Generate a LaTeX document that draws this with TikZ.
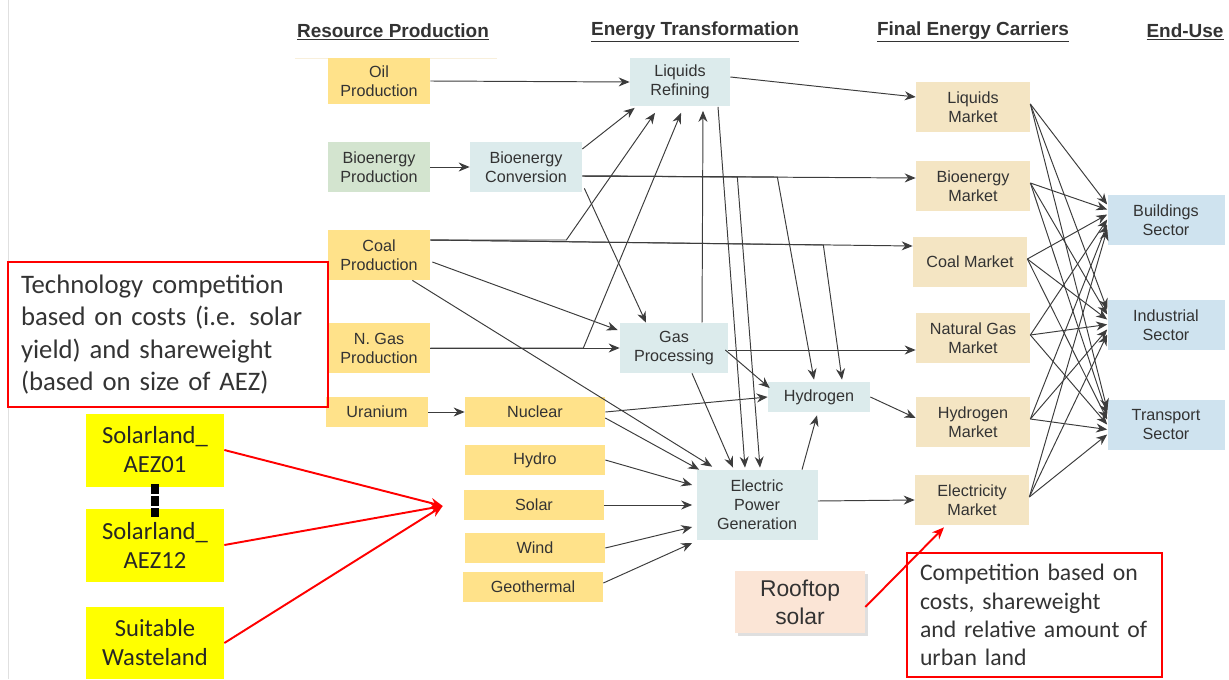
\documentclass[tikz,border=0pt]{standalone}
\usepackage{fontspec}
\setmainfont{Liberation Sans}
\newfontfamily\notefont{Carlito}
\usetikzlibrary{arrows.meta, calc, shadows}

\definecolor{prodyellow}{HTML}{FFE28A}
\definecolor{biogreen}{HTML}{D3E4CF}
\definecolor{transblue}{HTML}{DCEBEC}
\definecolor{mktbeige}{HTML}{F4E5C3}
\definecolor{sectblue}{HTML}{CFE3EF}
\definecolor{landyellow}{HTML}{FFFF00}
\definecolor{roofpeach}{HTML}{FBE5D6}
\definecolor{linegray}{HTML}{3C3C3C}
\definecolor{notered}{HTML}{FF0000}

\newcommand{\boxfont}{\fontsize{9.2}{10.8}\selectfont}

\tikzset{
  box/.style={rectangle, inner sep=1pt, align=center, text=black!80, font=\boxfont},
  prodbox/.style={box, fill=prodyellow, minimum width=2.04cm, minimum height=1cm},
  smallbox/.style={box, fill=prodyellow, minimum width=2.8cm, minimum height=0.6cm},
  transbox/.style={box, fill=transblue, minimum height=1cm},
  mktbox/.style={box, fill=mktbeige, minimum width=2.28cm, minimum height=1cm},
  sectbox/.style={box, fill=sectblue, minimum width=2.34cm, minimum height=1cm},
  landbox/.style={rectangle, fill=landyellow, align=center, text=black!85,
    font=\notefont\fontsize{14}{16.5}\selectfont, minimum width=2.76cm, minimum height=1.46cm},
  notebox/.style={rectangle, draw=notered, line width=1.2pt, align=left, text=black!80,
    inner xsep=0.26cm},
  headline/.style={font=\bfseries\fontsize{10.8}{13}\selectfont, text=black!80},
  arr/.style={-{Stealth[length=2.2mm, width=1.8mm]}, draw=linegray, line width=0.55pt},
  redarr/.style={-{Stealth[length=2.4mm, width=2mm]}, draw=notered, line width=1.1pt}
}

\begin{document}
\begin{tikzpicture}[x=0.02cm, y=-0.02cm]
  \useasboundingbox (0,0) rectangle (1229,679);
  % frame edge and faint rule
  \draw[black!12] (8,0) -- (8,679);
  \draw[mktbeige!60] (295,58) -- (497,58);

  % Column headings
  \node[headline] (hres) at (393,32) {\underline{Resource Production}};
  \node[headline] (htra) at (695,32) {\underline{Energy Transformation}};
  \node[headline] (hfin) at (973,32) {\underline{Final Energy Carriers}};
  \node[headline] (hend) at (1185,32) {\underline{End-Use}};

  % Resource production
  \node[prodbox, minimum height=0.94cm] (oil) at (379,81) {Oil\\Production};
  \node[prodbox, fill=biogreen] (bioprod) at (379,167) {Bioenergy\\Production};
  \node[prodbox] (coal) at (379,255) {Coal\\Production};
  \node[prodbox] (ngas) at (379,348) {N. Gas\\Production};
  \node[prodbox, minimum height=0.6cm] (uranium) at (377,412) {Uranium};
  \node[smallbox] (nuclear) at (535,412) {Nuclear};
  \node[smallbox] (hydro) at (535,460) {Hydro};
  \node[smallbox] (solar) at (534,505) {Solar};
  \node[smallbox] (wind) at (535,548) {Wind};
  \node[smallbox] (geo) at (533,587) {Geothermal};

  % Energy transformation
  \node[transbox, minimum width=2.24cm] (bioconv) at (526,167) {Bioenergy\\Conversion};
  \node[transbox, minimum width=2cm, minimum height=0.98cm] (liqref) at (680,82) {Liquids\\Refining};
  \node[transbox, minimum width=2.16cm] (gasproc) at (674,348) {Gas\\Processing};
  \node[transbox, minimum width=2.04cm, minimum height=0.6cm] (hyd) at (819,397) {Hydrogen};
  \node[transbox, minimum width=2.42cm, minimum height=1.4cm] (elec) at (757,505) {Electric\\Power\\Generation};

  % Final energy carriers
  \node[mktbox] (liqmkt) at (973,107) {Liquids\\Market};
  \node[mktbox] (biomkt) at (973,186) {Bioenergy\\Market};
  \node[mktbox] (coalmkt) at (970,262) {Coal Market};
  \node[mktbox] (ngmkt) at (973,338) {Natural Gas\\Market};
  \node[mktbox] (hydmkt) at (973,422) {Hydrogen\\Market};
  \node[mktbox] (elecmkt) at (972,500) {Electricity\\Market};

  % End-use
  \node[sectbox] (bld) at (1166,220) {Buildings\\Sector};
  \node[sectbox] (ind) at (1166,325) {Industrial\\Sector};
  \node[sectbox] (trn) at (1166,425) {Transport\\Sector};

  % Land and rooftop annotations
  \node[landbox] (aez01) at (155,450) {Solarland\_\\AEZ01};
  \node[landbox] (aez12) at (155,545) {Solarland\_\\AEZ12};
  \node[landbox, minimum height=1.44cm] (waste) at (155,643) {Suitable\\Wasteland};
  \node[rectangle, fill=roofpeach, align=center, text=black!80,
    font=\fontsize{13}{16}\selectfont, minimum width=2.6cm, minimum height=1.24cm,
    drop shadow={opacity=0.25, shadow xshift=1.5pt, shadow yshift=-1.5pt}]
    (roof) at (800,602) {Rooftop\\solar};
  \node[notebox, text width=5.88cm, minimum height=2.9cm,
    font=\notefont\fontsize{15.2}{18.5}\selectfont] (note1) at (168,334.5)
    {Technology competition\\based on costs (i.e. solar\\yield) and shareweight\\(based on size of AEZ)};
  \node[notebox, text width=4.58cm, minimum height=2.48cm,
    font=\notefont\fontsize{13.5}{16}\selectfont] (note2) at (1034.5,615)
    {Competition based on\\costs, shareweight\\and relative amount of\\urban land};
  \coordinate (solarin) at ($(solar.west)+(-21,1)$);

  % Resource flows
  \draw[arr] (oil.east) -- (liqref.west);
  \draw[arr] (bioprod.east) -- (bioconv.west);
  \draw[arr] (ngas.east) -- (gasproc.west);
  \draw[arr] (uranium.east) -- (nuclear.west);
  \draw[arr] ($(coal.east)+(0,-15)$) -- ($(coalmkt.west)+(0,-16)$);
  \draw[arr] ($(coal.east)+(0,-15)$) -- ($(coal.east)+(136,-15)$) -- ($(liqref.south)+(-25,6)$);
  \draw[arr] ($(coal.east)+(0,-15)$) -- ($(coal.east)+(393,-10)$) -- ($(hyd.north)+(23,-2)$);
  \draw[arr] ($(coal.east)+(2,7)$) -- ($(gasproc.west)+(-2,-18)$);
  \draw[arr] ($(coal.south east)+(-18,0)$) -- ($(elec.north west)+(16,-3)$);
  \draw[arr] (ngas.east) -- ($(ngas.east)+(153,0)$) -- ($(liqref.south)+(1,6)$);

  % Transformation flows
  \draw[arr] ($(bioconv.east)+(0,-18)$) -- ($(liqref.south west)+(5,1)$);
  \draw[arr] ($(bioconv.east)+(0,9)$) -- ($(biomkt.west)+(0,-8)$);
  \draw[arr] ($(bioconv.east)+(0,9)$) -- ($(bioconv.east)+(155,10)$) -- ($(elec.north)+(3,-2)$);
  \draw[arr] ($(bioconv.east)+(0,9)$) -- ($(bioconv.east)+(195,10)$) -- ($(hyd.north)+(-5,-2)$);
  \draw[arr] ($(bioconv.south east)+(2,-4)$) -- ($(gasproc.north)+(-28,0)$);
  \draw[arr] ($(liqref.east)+(0,-5)$) -- ($(liqmkt.west)+(0,-10)$);
  \draw[arr] ($(liqref.south)+(38,0)$) -- ($(elec.north)+(-12,-2)$);
  \draw[arr] ($(gasproc.north)+(28,0)$) -- ($(liqref.south)+(23,4)$);
  \draw[arr] ($(gasproc.east)+(0,2)$) -- ($(ngmkt.west)+(0,12)$);
  \draw[arr] ($(gasproc.east)+(-3,2)$) -- ($(hyd.west)+(2,-9)$);
  \draw[arr] ($(gasproc.south)+(18,0)$) -- ($(elec.north)+(-24,-2)$);
  \draw[arr] (nuclear.east) -- (hyd.west);
  \draw[arr] ($(nuclear.east)+(0,6)$) -- ($(elec.north west)+(3,0)$);
  \draw[arr] (hydro.east) -- ($(elec.west)+(-4,-20)$);
  \draw[arr] (solar.east) -- ($(elec.west)+(-4,0)$);
  \draw[arr] (wind.east) -- ($(elec.west)+(-4,22)$);
  \draw[arr] ($(geo.east)+(0,-4)$) -- ($(elec.west)+(-4,38)$);
  \draw[arr] ($(elec.north)+(45,0)$) -- ($(hyd.south)+(-2,3)$);
  \draw[arr] (hyd.east) -- ($(hydmkt.west)+(0,-4)$);
  \draw[arr] ($(elec.east)+(0,-4)$) -- (elecmkt.west);

  % Markets to end-use sectors
  \foreach \m [count=\i] in {liqmkt,biomkt,coalmkt,ngmkt,hydmkt,elecmkt}
    \foreach \s in {bld,ind,trn}
      \draw[arr] ($(\m.east)+(0,-3)$) -- ($(\s.west)+(0,{(\i-3.5)*5-3})$);

  % Annotation links
  \draw[line width=4.5pt, dash pattern=on 5.5pt off 1.4pt]
    ($(aez01.south)+(0,-3)$) -- ($(aez12.north)+(0,9)$);
  \draw[redarr] (aez01.east) -- (solarin);
  \draw[redarr] (aez12.east) -- (solarin);
  \draw[redarr] (waste.east) -- (solarin);
  \draw[redarr] ($(roof.east)+(0,5)$) -- ($(elecmkt.south)+(-28,2)$);
\end{tikzpicture}
\end{document}
